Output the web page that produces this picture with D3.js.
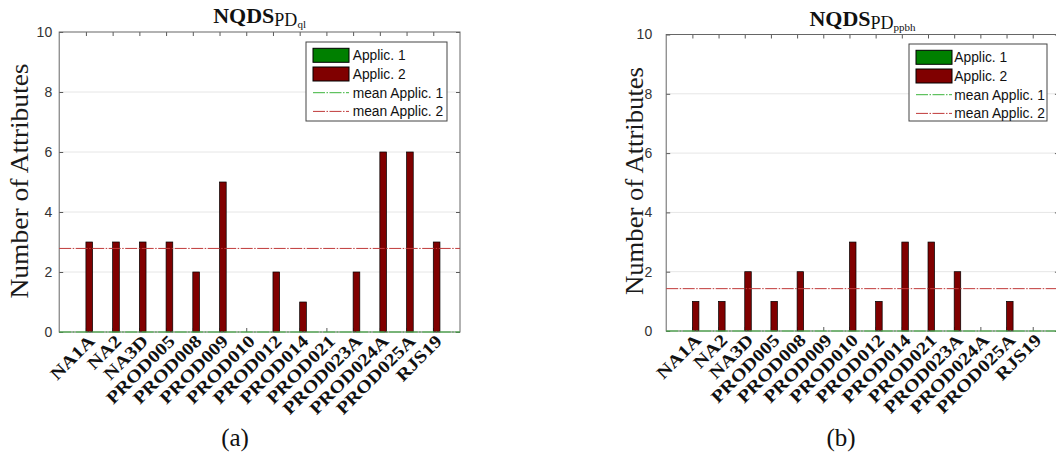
<!DOCTYPE html>
<html>
<head>
<meta charset="utf-8">
<style>
  body { margin: 0; background: #fff; }
  svg { display: block; }
  .axis .domain { display: none; }
  .axis .tick line { stroke: #5a5a5a; }
  .yax .tick text { font-family: "Liberation Sans", Arial, sans-serif; font-size: 14px; fill: #333; }
  .xax .tick text { font-family: "Liberation Serif", "Times New Roman", serif; font-weight: bold; font-size: 17.5px; fill: #111; }
</style>
</head>
<body>
<svg width="1056" height="454"></svg>
<script src="https://cdn.jsdelivr.net/npm/d3@7"></script>
<script>
// categories on x
const categories = ["NA1A", "NA2", "NA3D", "PROD005", "PROD008", "PROD009", "PROD010",
  "PROD012", "PROD014", "PROD021", "PROD023A", "PROD024A", "PROD025A", "RJS19"];

// panel (a) PD_ql
const applic1_ql = [0, 0, 0, 0, 0, 0, 0, 0, 0, 0, 0, 0, 0, 0];
const applic2_ql = [3, 3, 3, 3, 2, 5, 0, 2, 1, 0, 2, 6, 6, 3];

// panel (b) PD_ppbh
const applic1_ppbh = [0, 0, 0, 0, 0, 0, 0, 0, 0, 0, 0, 0, 0, 0];
const applic2_ppbh = [1, 1, 2, 1, 2, 0, 3, 1, 3, 3, 2, 0, 1, 0];

const yTicks = [0, 2, 4, 6, 8, 10];
const legendLabels = ["Applic. 1", "Applic. 2", "mean Applic. 1", "mean Applic. 2"];

const green = "#007f00", red = "#800000";
const greenMean = "#3cb43c", redMean = "#c03a3a";

let svg = d3.select("svg");

function drawPanel(p) {
  let x = d3.scalePoint().domain(categories).range([p.x0, p.x1]).padding(1);
  let y = d3.scaleLinear().domain([0, 10]).range([p.yb, p.yt]);
  let step = x.step();
  let bw = step * 0.25;

  let g = svg.append("g");

  // grid
  g.append("g").selectAll("line")
    .data(yTicks.filter(d => d > 0 && d < 10))
    .join("line")
    .attr("x1", p.x0).attr("x2", p.x1)
    .attr("y1", d => y(d)).attr("y2", d => y(d))
    .style("stroke", "#e6e6e6").style("stroke-width", 1);

  // ticks (inward, all four sides)
  g.append("g").attr("class", "axis yax")
    .attr("transform", `translate(${p.x0},0)`)
    .call(d3.axisLeft(y).tickValues(yTicks).tickSize(-4).tickPadding(p.pad).tickFormat(d3.format("d")));
  g.append("g").attr("class", "axis")
    .attr("transform", `translate(${p.x1},0)`)
    .call(d3.axisRight(y).tickValues(yTicks).tickSize(-4).tickFormat(""));
  g.append("g").attr("class", "axis")
    .attr("transform", `translate(0,${p.yt})`)
    .call(d3.axisTop(x).tickSize(-4).tickFormat(""));
  let xa = g.append("g").attr("class", "axis xax")
    .attr("transform", `translate(0,${p.yb})`)
    .call(d3.axisBottom(x).tickSize(-4));
  xa.selectAll(".tick text")
    .attr("x", 0).attr("y", 0).attr("dy", "0.35em")
    .attr("transform", "translate(5,6) rotate(-45)")
    .style("text-anchor", "end")
    .each(function () {
      let t = d3.select(this);
      t.attr("textLength", this.getComputedTextLength() * 1.17).attr("lengthAdjust", "spacingAndGlyphs");
    });

  // bars
  g.append("g").selectAll("rect")
    .data(categories.map((c, i) => ({ c: c, v: p.a1[i] })))
    .join("rect")
    .attr("x", d => x(d.c) - bw).attr("width", bw)
    .attr("y", d => y(d.v)).attr("height", d => y(0) - y(d.v))
    .style("fill", green).style("stroke", "#000").style("stroke-width", 0.7);
  g.append("g").selectAll("rect")
    .data(categories.map((c, i) => ({ c: c, v: p.a2[i] })))
    .join("rect")
    .attr("x", d => x(d.c)).attr("width", bw)
    .attr("y", d => y(d.v)).attr("height", d => y(0) - y(d.v))
    .style("fill", red).style("stroke", "#000").style("stroke-width", 0.7);

  // box
  g.append("rect")
    .attr("x", p.x0).attr("y", p.yt)
    .attr("width", p.x1 - p.x0).attr("height", p.yb - p.yt)
    .style("fill", "none").style("stroke", "#666").style("stroke-width", 1);

  // mean lines
  let m1 = d3.mean(p.a1), m2 = d3.mean(p.a2);
  g.append("line")
    .attr("x1", p.x0).attr("x2", p.x1).attr("y1", y(m1)).attr("y2", y(m1))
    .style("stroke", greenMean).style("stroke-width", 1).style("stroke-dasharray", "12,1.5,1.5,1.5");
  g.append("line")
    .attr("x1", p.x0).attr("x2", p.x1).attr("y1", y(m2)).attr("y2", y(m2))
    .style("stroke", redMean).style("stroke-width", 1).style("stroke-dasharray", "12,1.5,1.5,1.5");

  // legend
  let lg = g.append("g").attr("transform", `translate(${p.lx},${p.ly})`);
  lg.append("rect").attr("width", p.lw).attr("height", p.lh)
    .style("fill", "#fff").style("stroke", "#444").style("stroke-width", 1);
  legendLabels.forEach((lab, i) => {
    let cy = 13.3 + i * 18.7;
    if (i < 2) {
      lg.append("rect").attr("x", 7).attr("y", cy - 7).attr("width", 36).attr("height", 14)
        .style("fill", i == 0 ? green : red).style("stroke", "#000").style("stroke-width", 1);
    } else {
      lg.append("line").attr("x1", 7).attr("x2", 43).attr("y1", cy).attr("y2", cy)
        .style("stroke", i == 2 ? greenMean : redMean).style("stroke-width", 1)
        .style("stroke-dasharray", "12,1.5,1.5,1.5");
    }
    lg.append("text").attr("x", p.tx).attr("y", cy).attr("dy", "0.36em")
      .style("font-family", "'Liberation Sans', Arial, sans-serif").style("font-size", "13.8px")
      .style("fill", "#111").text(lab);
  });

  // title
  let title = g.append("text")
    .attr("x", (p.x0 + p.x1) / 2).attr("y", p.tb)
    .style("text-anchor", "middle")
    .style("font-family", "'Liberation Serif', 'Times New Roman', serif").style("fill", "#111");
  title.append("tspan").style("font-weight", "bold").style("font-size", "22px").text("NQDS");
  title.append("tspan").attr("dy", 3).style("font-size", "18px").text("PD");
  title.append("tspan").attr("dy", 2).style("font-size", "11px").text(p.sub);

  // y label
  g.append("text")
    .attr("transform", `translate(${p.ylx},181) rotate(-90)`)
    .style("text-anchor", "middle")
    .style("font-family", "'Liberation Serif', 'Times New Roman', serif").style("font-size", "25px")
    .style("fill", "#1a1a1a")
    .attr("textLength", p.yll).attr("lengthAdjust", "spacingAndGlyphs")
    .text("Number of Attributes");

  // caption
  g.append("text")
    .attr("x", p.cx).attr("y", 446)
    .style("text-anchor", "middle")
    .style("font-family", "'Liberation Serif', 'Times New Roman', serif").style("font-size", "25px")
    .style("fill", "#111").text(p.cap);
}

drawPanel({ x0: 59.2, x1: 460, yt: 32, yb: 332, pad: 7, a1: applic1_ql, a2: applic2_ql,
  lx: 306, ly: 42, lw: 141, lh: 79, tx: 46.7, tb: 23, sub: "ql",
  ylx: 28.3, yll: 235, cx: 235, cap: "(a)" });

drawPanel({ x0: 666.2, x1: 1058.9, yt: 34.5, yb: 331, pad: 14, a1: applic1_ppbh, a2: applic2_ppbh,
  lx: 909, ly: 44, lw: 138, lh: 77, tx: 45.3, tb: 26, sub: "ppbh",
  ylx: 643, yll: 228, cx: 841, cap: "(b)" });
</script>
</body>
</html>
